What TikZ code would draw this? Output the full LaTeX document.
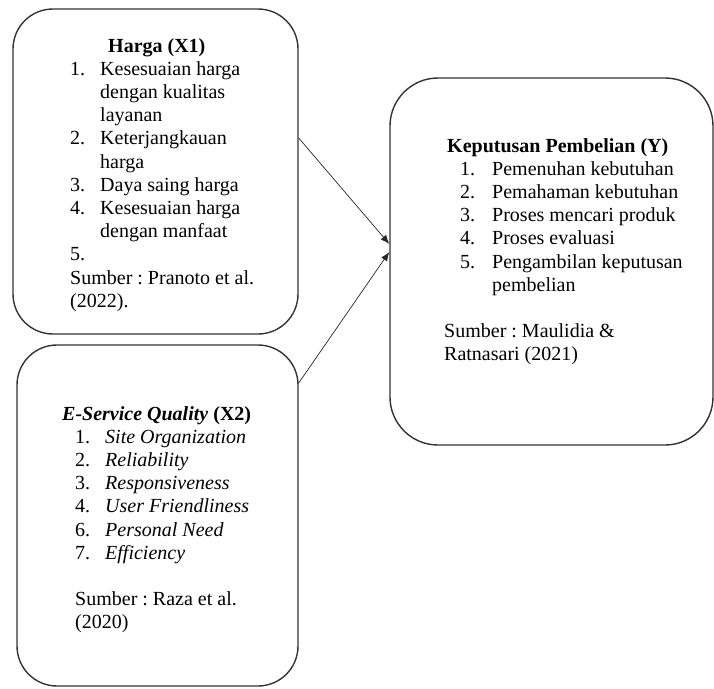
\documentclass[tikz,border=0pt]{standalone}
\usepackage{fontspec}
\setmainfont{Liberation Serif}
\usetikzlibrary{arrows.meta}
\tikzset{box/.style = {draw=black!80, line width=1.4pt, rounded corners=40pt, inner sep=0pt},
         txt/.style = {anchor=north west, inner sep=0pt, align=left, font=\fontsize{20}{23.2}\selectfont},
         edge/.style = {-{Latex[length=9pt,width=7pt]}, line width=0.7pt, black!85}}
\newcommand{\itm}[3]{\makebox[#1][l]{#2}#3}
\frenchspacing

\begin{document}
\begin{tikzpicture}[x=1pt,y=-1pt]
            \useasboundingbox (0,0) rectangle (714,688);

            \node[box, minimum width=285pt, minimum height=325pt] (x1) at (155.5,171.5) {};
            \node[box, minimum width=281pt, minimum height=341pt] (x2) at (157.5,515.5) {};
            \node[box, rounded corners=48pt, minimum width=323pt, minimum height=367pt] (y) at (551.5,261.5) {};

            \node[txt] (x1txt) at (70,38) {\hspace*{38pt}\textbf{Harga (X1)}\\
                \itm{30pt}{1.}{Kesesuaian harga}\\
                \hspace*{30pt}dengan kualitas\\
                \hspace*{30pt}layanan\\
                \itm{30pt}{2.}{Keterjangkauan}\\
                \hspace*{30pt}harga\\
                \itm{30pt}{3.}{Daya saing harga}\\
                \itm{30pt}{4.}{Kesesuaian harga}\\
                \hspace*{30pt}dengan manfaat\\
                5.\\
                Sumber : Pranoto et al.\\
                (2022).};

            \node[txt] (x2txt) at (62,406) {\textbf{\textit{E-Service Quality} (X2)}\\
                \hspace*{13pt}\itm{30pt}{1.}{\textit{Site Organization}}\\
                \hspace*{13pt}\itm{30pt}{2.}{\textit{Reliability}}\\
                \hspace*{13pt}\itm{30pt}{3.}{\textit{Responsiveness}}\\
                \hspace*{13pt}\itm{30pt}{4.}{\textit{User Friendliness}}\\
                \hspace*{13pt}\itm{30pt}{6.}{\textit{Personal Need}}\\
                \hspace*{13pt}\itm{30pt}{7.}{\textit{Efficiency}}\\[23.2pt]
                \hspace*{13pt}Sumber : Raza et al.\\
                \hspace*{13pt}(2020)};

            \node[txt] (ytxt) at (444,138) {\hspace*{3pt}\textbf{Keputusan Pembelian (Y)}\\
                \hspace*{16pt}\itm{32pt}{1.}{Pemenuhan kebutuhan}\\
                \hspace*{16pt}\itm{32pt}{2.}{Pemahaman kebutuhan}\\
                \hspace*{16pt}\itm{32pt}{3.}{Proses mencari produk}\\
                \hspace*{16pt}\itm{32pt}{4.}{Proses evaluasi}\\
                \hspace*{16pt}\itm{32pt}{5.}{Pengambilan keputusan}\\
                \hspace*{48pt}pembelian\\[23.2pt]
                Sumber : Maulidia \&\\
                Ratnasari (2021)};

            \draw[edge] ([yshift=33.5pt]x1.east) -- ([yshift=17.5pt]y.west);
            \draw[edge] ([yshift=132.5pt]x2.east) -- ([yshift=9.5pt]y.west);
\end{tikzpicture}
\end{document}
